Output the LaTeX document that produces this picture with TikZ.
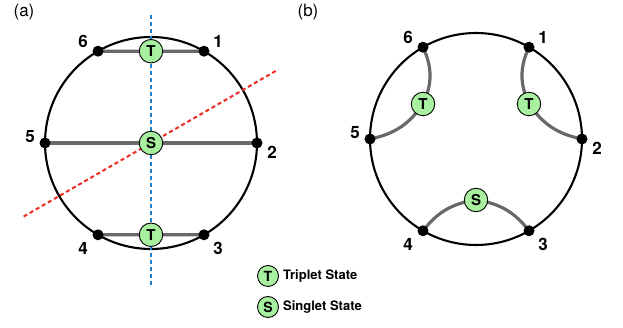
\documentclass[tikz,border=0pt]{standalone}
\usepackage{fontspec}
\setmainfont{TeX Gyre Heros}
\usetikzlibrary{positioning}
\definecolor{stategreen}{RGB}{168,240,160}
\definecolor{bondgray}{RGB}{105,105,105}
\definecolor{mirrorblue}{RGB}{30,128,200}
\definecolor{mirrorred}{RGB}{240,40,30}
\tikzset{
    ring/.style = {draw = black, line width = 2.1pt},
    site/.style = {circle, fill = black, inner sep = 0pt, minimum size = 11pt},
    bond/.style = {draw = bondgray, line width = 3.2pt},
    state/.style = {circle, draw = black, line width = .9pt, fill = stategreen, inner sep = 0pt,
        minimum size = 23.5pt, font = \fontsize{15}{15}\selectfont\bfseries},
    keystate/.style = {state, minimum size = 21pt, font = \fontsize{14}{14}\selectfont\bfseries},
    num/.style = {inner sep = 0pt, font = \fontsize{17}{17}\selectfont\bfseries},
    keytext/.style = {inner sep = 0pt, font = \fontsize{13}{13}\selectfont\bfseries},
    mirror/.style = {line width = 2pt, dash pattern = on 4pt off 3pt},
}
\begin{document}
\begin{tikzpicture}[x = 1pt, y = 1pt]
    \useasboundingbox (0,0) rectangle (623,328);
    % (a)
    \node[font = \fontsize{17}{17}\selectfont] (taga) at (24,316) {(a)};
    \foreach \k/\ang in {1/60, 2/0, 3/-60, 4/-120, 5/180, 6/120}
        \coordinate (a\k) at ([shift = {(\ang:106)}]151,185);
    \coordinate (ta) at ([shift = {(0,91.8)}]151,185);
    \coordinate (sa) at (151,185);
    \coordinate (tb) at ([shift = {(0,-91.8)}]151,185);
    \coordinate (va) at (151,313);
    \coordinate (vb) at (151,41);
    \coordinate (ra) at ([shift = {(30:147)}]151,185);
    \coordinate (rb) at ([shift = {(210:147)}]151,185);
    \draw[ring] (sa) circle (106);
    \draw[bond] (a6) -- (ta) -- (a1);
    \draw[bond] (a5) -- (sa) -- (a2);
    \draw[bond] (a4) -- (tb) -- (a3);
    \draw[mirror, mirrorblue] (va) -- (vb);
    \draw[mirror, mirrorred] (rb) -- (ra);
    \foreach \k in {1,...,6}
        \node[site] (da\k) at (a\k) {};
    \node[state] (nta) at (ta) {T};
    \node[state] (nsa) at (sa) {S};
    \node[state] (ntb) at (tb) {T};
    \foreach \k/\dx/\dy in {1/14/10, 2/15/-9, 3/14/-14, 4/-15/-14, 5/-15/6, 6/-15/10}
        \node[num] (na\k) at ([shift = {(\dx,\dy)}]a\k) {\k};
    % (b)
    \node[font = \fontsize{17}{17}\selectfont] (tagb) at (308,316) {(b)};
    \foreach \k/\ang in {1/60, 2/0, 3/-60, 4/-120, 5/180, 6/120}
        \coordinate (b\k) at ([shift = {(\ang:106)}]476,189);
    \coordinate (tl) at (423,224);
    \coordinate (tr) at (529,224);
    \coordinate (sb) at (476,128);
    \draw[ring] (476,189) circle (106);
    \draw[bond] (b6) to[bend left = 25] (tl) to[bend left = 22] (b5);
    \draw[bond] (b1) to[bend right = 25] (tr) to[bend right = 22] (b2);
    \draw[bond] (b4) to[bend left = 22] (sb) to[bend left = 22] (b3);
    \foreach \k in {1,...,6}
        \node[site] (db\k) at (b\k) {};
    \node[state] (ntl) at (tl) {T};
    \node[state] (ntr) at (tr) {T};
    \node[state] (nsb) at (sb) {S};
    \foreach \k/\dx/\dy in {1/14/10, 2/15/-9, 3/14/-14, 4/-15/-14, 5/-15/6, 6/-15/10}
        \node[num] (nb\k) at ([shift = {(\dx,\dy)}]b\k) {\k};
    % key
    \node[keystate] (kt) at (268,52) {T};
    \node[keystate] (ks) at (268,21) {S};
    \node[keytext, right = 4pt of kt] (ktt) {Triplet State};
    \node[keytext, right = 4pt of ks] (kst) {Singlet State};
\end{tikzpicture}
\end{document}
